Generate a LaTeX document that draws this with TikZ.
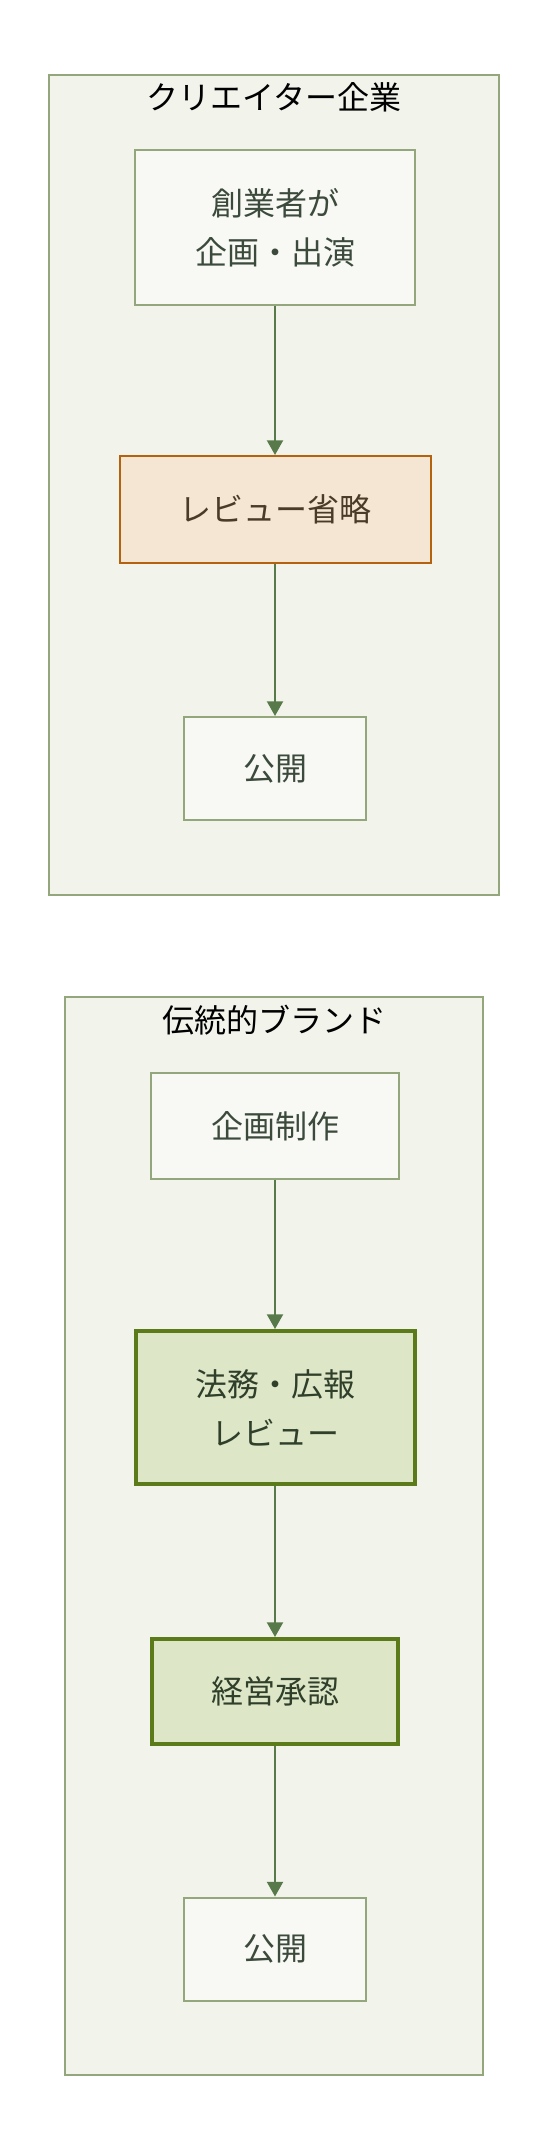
\documentclass[tikz,border=0pt]{standalone}
\usepackage{fontspec}
\setmainfont{Noto Sans CJK JP}
\usetikzlibrary{arrows.meta}
\definecolor{grpfill}{HTML}{F2F3EB}
\definecolor{grpline}{HTML}{94A67C}
\definecolor{boxfill}{HTML}{F8F9F4}
\definecolor{boxtext}{HTML}{3B4A3B}
\definecolor{skipfill}{HTML}{F5E6D4}
\definecolor{skipline}{HTML}{B5620F}
\definecolor{skiptext}{HTML}{4A3A28}
\definecolor{chkfill}{HTML}{DDE6C7}
\definecolor{chkline}{HTML}{5B7B1B}
\definecolor{chktext}{HTML}{2F3F2A}
\definecolor{flowline}{HTML}{587A4A}

\begin{document}
\begin{tikzpicture}[%
      x=0.75pt, y=-0.75pt,
      every node/.style={font=\fontsize{24}{36.75}\selectfont, align=center, inner sep=0pt},
      plain/.style={draw=grpline, fill=boxfill, line width=1.5pt, text=boxtext},
      skipped/.style={draw=skipline, fill=skipfill, line width=1.5pt, text=skiptext},
      checked/.style={draw=chkline, fill=chkfill, line width=3pt, text=chktext},
      flow/.style={draw=flowline, line width=1.5pt, -{Triangle[length=11pt,width=12pt]}},
      ]
      \useasboundingbox (0,0) rectangle (548,2154);

      \filldraw [fill=grpfill, draw=grpline, line width=1.5pt] (49,75) rectangle (499,895);
      \filldraw [fill=grpfill, draw=grpline, line width=1.5pt] (65,997) rectangle (483,2075);

      \node (creator) at (274,97) {クリエイター企業};
      \node (brand) at (274,1020) {伝統的ブランド};

      \node [plain, minimum width=210pt, minimum height=116.25pt] (founder) at (275,227.5) {創業者が\\企画・出演};
      \node [skipped, minimum width=233.25pt, minimum height=80.25pt] (noreview) at (275,509.5) {レビュー省略};
      \node [plain, minimum width=136.5pt, minimum height=77.25pt] (publishA) at (275,768.5) {公開};

      \node [plain, minimum width=186pt, minimum height=79.5pt] (planning) at (275,1126) {企画制作};
      \node [checked, minimum width=209.25pt, minimum height=114.75pt] (legal) at (275,1407.5) {法務・広報\\レビュー};
      \node [checked, minimum width=184.5pt, minimum height=78.75pt] (approval) at (275,1691.5) {経営承認};
      \node [plain, minimum width=136.5pt, minimum height=77.25pt] (publishB) at (275,1949) {公開};

      \draw [flow] (founder) -- (noreview);
      \draw [flow] (noreview) -- (publishA);
      \draw [flow] (planning) -- (legal);
      \draw [flow] (legal) -- (approval);
      \draw [flow] (approval) -- (publishB);
\end{tikzpicture}
\end{document}
